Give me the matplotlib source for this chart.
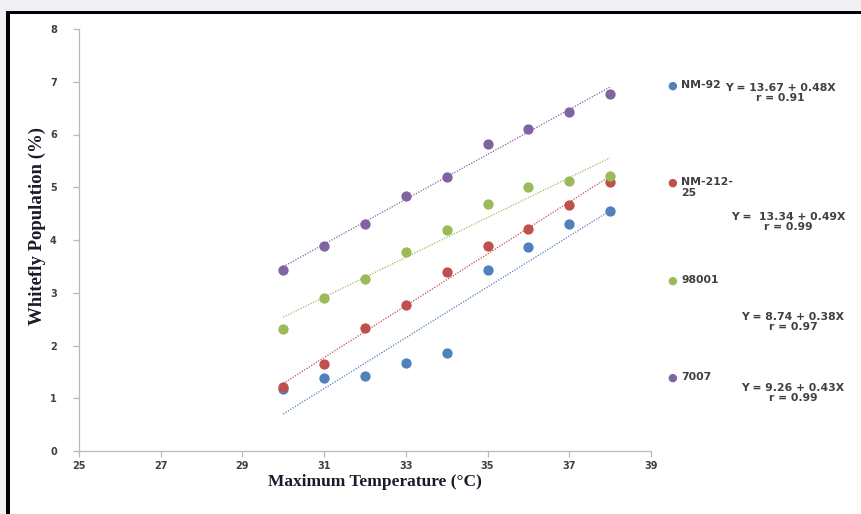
import numpy as np
import matplotlib.pyplot as plt
from matplotlib.patches import Rectangle

# temperature (deg C) and whitefly population (%) per variety
temp = [30, 31, 32, 33, 34, 35, 36, 37, 38]
nm92 = [1.18, 1.38, 1.42, 1.67, 1.86, 3.43, 3.87, 4.30, 4.55]
nm21225 = [1.21, 1.65, 2.33, 2.77, 3.39, 3.89, 4.21, 4.66, 5.10]
v98001 = [2.31, 2.90, 3.26, 3.77, 4.19, 4.68, 5.00, 5.12, 5.21]
v7007 = [3.43, 3.89, 4.31, 4.84, 5.19, 5.82, 6.10, 6.43, 6.77]

names = ['NM-92', 'NM-212-\n25', '98001', '7007']
colors = ['#4F81BD', '#C0504D', '#9BBB59', '#8064A2']
equations = ['Y = 13.67 + 0.48X\nr = 0.91', 'Y =  13.34 + 0.49X\nr = 0.99',
             'Y = 8.74 + 0.38X\nr = 0.97', 'Y = 9.26 + 0.43X\nr = 0.99']

W, H = 861, 514
fig = plt.figure(figsize=(W / 100, H / 100), dpi=100)
fig.patch.set_facecolor('white')

# page background and black frame like the screenshot
fig.patches.append(Rectangle((0, 1 - 11 / H), 1, 11 / H, transform=fig.transFigure,
                             facecolor='#f0f1f4', edgecolor='none', zorder=0))
fig.patches.append(Rectangle((0, 0), 6 / W, 1, transform=fig.transFigure,
                             facecolor='#f0f1f4', edgecolor='none', zorder=0))
fig.patches.append(Rectangle((6 / W, 1 - 14 / H), 1, 3 / H, transform=fig.transFigure,
                             facecolor='black', edgecolor='none', zorder=1))
fig.patches.append(Rectangle((6 / W, 0), 4 / W, 1 - 11 / H, transform=fig.transFigure,
                             facecolor='black', edgecolor='none', zorder=1))

ax = fig.add_axes([79 / W, 1 - 451 / H, (651 - 79) / W, (451 - 29) / H])

x = np.array(temp, dtype=float)
for y, c in zip([nm92, nm21225, v98001, v7007], colors):
    ax.scatter(x, y, s=55, color=c, zorder=3, linewidths=0)
    k, b = np.polyfit(x, y, 1)
    ax.plot([x[0], x[-1]], [k * x[0] + b, k * x[-1] + b], color=c,
            linestyle=(0, (1, 1.2)), linewidth=0.9, zorder=2)

ax.set_xlim(25, 39)
ax.set_ylim(0, 8)
ax.set_xticks(range(25, 40, 2))
ax.set_yticks(range(0, 9))
for s in ['top', 'right']:
    ax.spines[s].set_visible(False)
for s in ['left', 'bottom']:
    ax.spines[s].set_color('#b8b8b8')
    ax.spines[s].set_linewidth(0.9)
ax.tick_params(colors='#b8b8b8', length=4, width=0.9, labelcolor='#404040',
               labelsize=7)
for lab in ax.get_xticklabels() + ax.get_yticklabels():
    lab.set_fontweight('bold')
ax.tick_params(axis='y', pad=12)
ax.tick_params(axis='x', pad=3)

ax.set_xlabel('Maximum Temperature (°C)', family='Liberation Serif',
              fontweight='bold', fontsize=12.5, color='#1a1a2a', va='center')
ax.set_ylabel('Whitefly Population (%)', family='Liberation Serif',
              fontweight='bold', fontsize=13.5, color='#1a1a2a', va='center')
ax.xaxis.set_label_coords((375 - 79) / 572, (451 - 482) / 422)
ax.yaxis.set_label_coords((37 - 79) / 572, (451 - 226) / 422)

# legend entries and regression equations on the right
leg_y = [86, 183, 281, 378]
eq_y = [93, 222, 322, 393]
eq_x = [780, 788, 793, 793]
for name, c, ly, eq, ey, ex in zip(names, colors, leg_y, equations, eq_y, eq_x):
    fig.text(672 / W, 1 - ly / H, '●', color=c, fontsize=8, ha='center', va='center')
    fig.text(681 / W, 1 - (ly - 6) / H, name, color='#404040', fontsize=7.8,
             fontweight='bold', ha='left', va='top', linespacing=1.1)
    fig.text(ex / W, 1 - ey / H, eq, color='#404040', fontsize=7.8,
             fontweight='bold', ha='center', va='center', linespacing=1.1)

fig.savefig('out.png', dpi=100)
